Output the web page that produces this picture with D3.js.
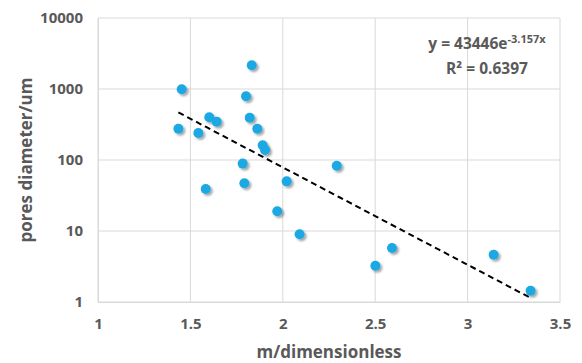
<!DOCTYPE html>
<html><head><meta charset="utf-8">
<script src="https://cdn.jsdelivr.net/npm/d3@7"></script>
<style>
html,body{margin:0;padding:0;background:#fff;}
text{font-family:"Open Sans","Noto Sans",sans-serif;font-weight:bold;fill:#595959;}
</style></head>
<body><svg id="c" width="582" height="363"></svg>
<script>
const xValues = [1.453,1.435,1.543,1.602,1.642,1.583,1.832,1.801,1.821,1.862,1.891,1.904,1.783,1.792,2.021,1.970,2.091,2.292,2.501,2.591,3.141,3.341];
const yValues = [990,276,240,399,347,39,2158,789,394,276,161,138,89,47,50,19,9.0,83,3.24,5.77,4.63,1.44];
const xTicks = [1,1.5,2,2.5,3,3.5];
const yTicks = [1,10,100,1000,10000];
const fitA = 43446, fitB = -3.157;
const eqText = "y = 43446e", eqSup = "-3.157x", r2Text = "R² = 0.6397";
const xTitle = "m/dimensionless", yTitle = "pores diameter/um";

const svg = d3.select("#c");
const m = {l:98, r:22, t:18, b:61};
const W = 582, H = 363;
const x = d3.scaleLinear().domain([1,3.5]).range([m.l, W-m.r]);
const y = d3.scaleLog().domain([1,10000]).range([H-m.b, m.t]);

const defs = svg.append("defs");
const f = defs.append("filter").attr("id","sh").attr("x","-50%").attr("y","-50%").attr("width","200%").attr("height","200%");
f.append("feDropShadow").attr("dx",2).attr("dy",2).attr("stdDeviation",1.3).attr("flood-color","#000").attr("flood-opacity",0.35);

// grid
svg.append("g").selectAll("line").data(yTicks).join("line")
  .attr("x1",m.l).attr("x2",W-m.r).attr("y1",d=>y(d)).attr("y2",d=>y(d))
  .attr("stroke","#d9d9d9").attr("stroke-width",1);
svg.append("g").selectAll("line").data(xTicks).join("line")
  .attr("y1",m.t).attr("y2",H-m.b).attr("x1",d=>x(d)).attr("x2",d=>x(d))
  .attr("stroke","#d9d9d9").attr("stroke-width",1);

// axes
const xa = svg.append("g").attr("transform",`translate(0,${H-m.b})`)
  .call(d3.axisBottom(x).tickValues(xTicks).tickSize(0).tickPadding(16).tickFormat(d=>d3.format("")(d)));
xa.select(".domain").attr("stroke","#d9d9d9");
xa.selectAll("text").attr("font-size",15).style("font-family","'Open Sans',sans-serif").style("font-weight","bold").attr("fill","#595959");
const ya = svg.append("g").attr("transform",`translate(${m.l},0)`)
  .call(d3.axisLeft(y).tickValues(yTicks).tickSize(0).tickPadding(15).tickFormat(d3.format("d")));
ya.select(".domain").attr("stroke","#d9d9d9");
ya.selectAll("text").attr("font-size",15).style("font-family","'Open Sans',sans-serif").style("font-weight","bold").attr("fill","#595959");

// trendline
const xmin = d3.min(xValues), xmax = d3.max(xValues);
const lineData = d3.range(0,51).map(i=>{const xv = xmin + (xmax-xmin)*i/50; return [xv, fitA*Math.exp(fitB*xv)];});
svg.append("path").datum(lineData)
  .attr("d", d3.line().x(d=>x(d[0])).y(d=>y(d[1])))
  .attr("fill","none").attr("stroke","#000").attr("stroke-width",2).attr("stroke-dasharray","6,4");

// points
svg.append("g").selectAll("circle").data(xValues.map((v,i)=>[v,yValues[i]])).join("circle")
  .attr("cx",d=>x(d[0])).attr("cy",d=>y(d[1])).attr("r",5)
  .attr("fill","#1aa9e3").attr("filter","url(#sh)");

// titles
svg.append("text").attr("x",(m.l+W-m.r)/2).attr("y",358).attr("text-anchor","middle").attr("font-size",17).text(xTitle);
svg.append("text").attr("transform",`translate(32,${(m.t+H-m.b)/2}) rotate(-90)`).attr("text-anchor","middle").attr("font-size",17).text(yTitle);

// equation
const eq = svg.append("text").attr("x",487).attr("y",49).attr("text-anchor","middle").attr("font-size",15.5);
eq.append("tspan").text(eqText);
eq.append("tspan").attr("font-size",11).attr("dy",-6).text(eqSup);
svg.append("text").attr("x",487).attr("y",74).attr("text-anchor","middle").attr("font-size",15.5).text(r2Text);
</script></body></html>
